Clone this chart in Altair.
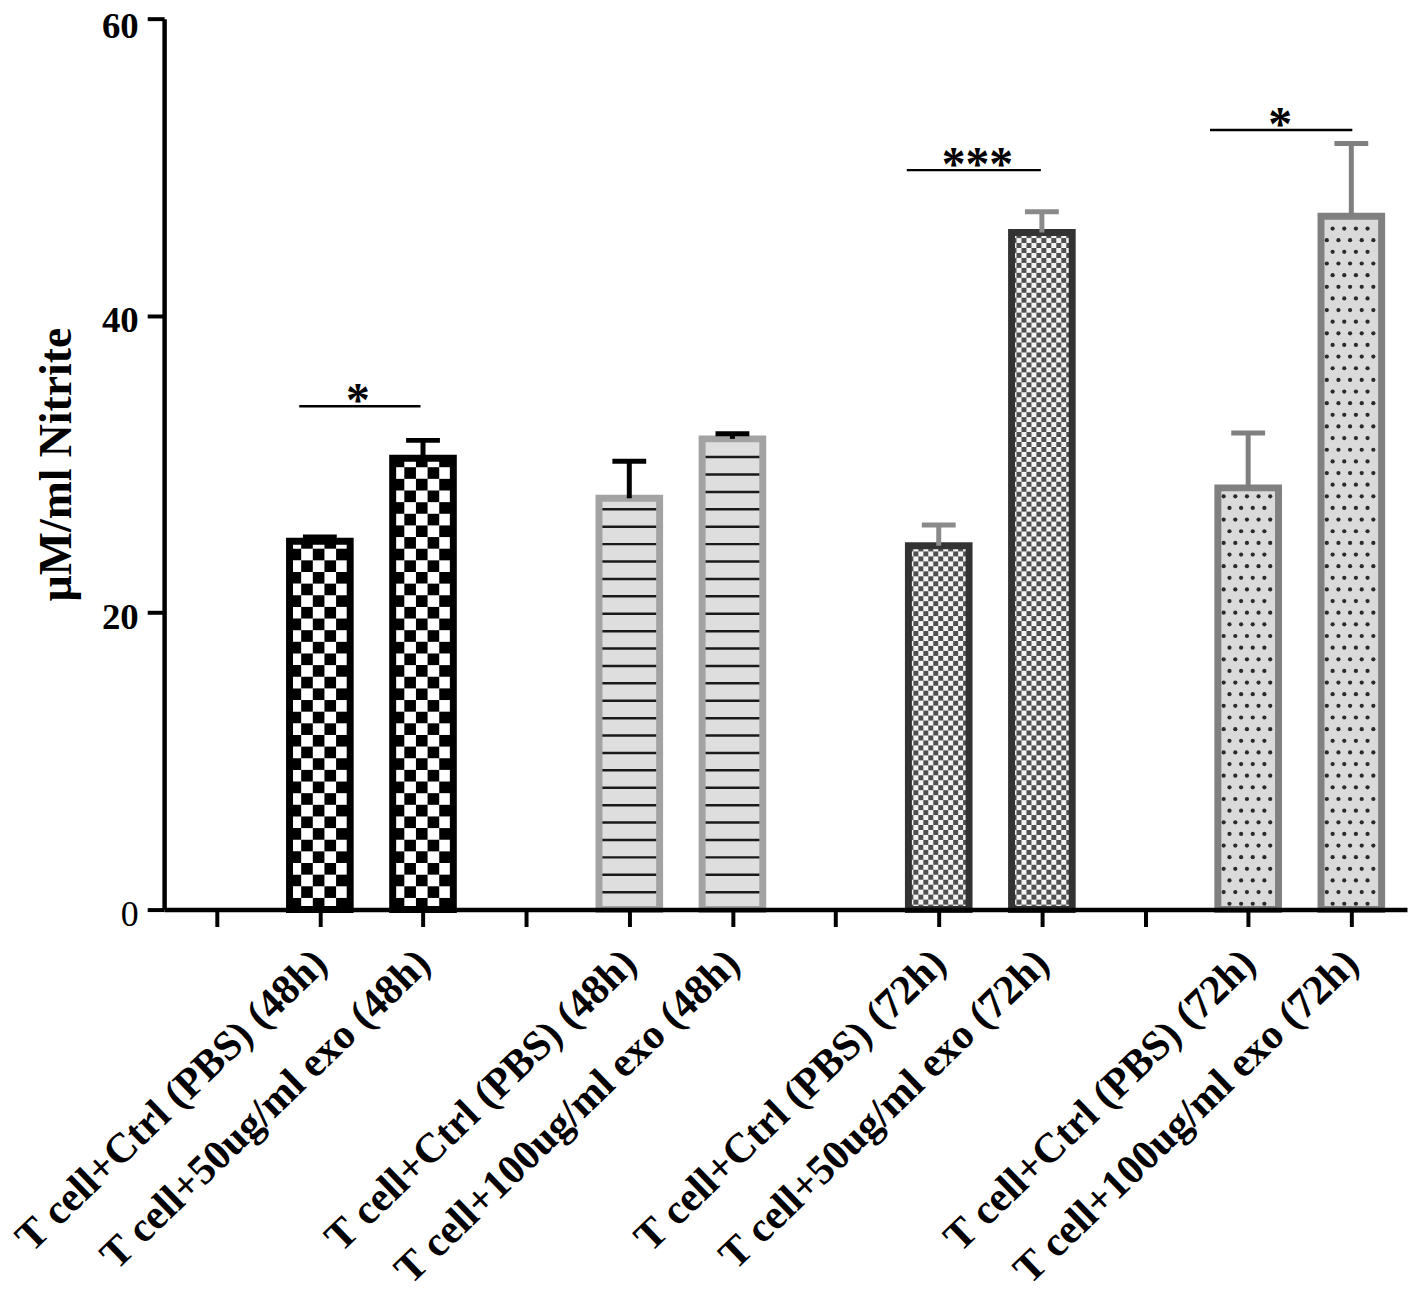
import altair as alt
import pandas as pd
import json

# ---- data ----
labels = ["T cell+Ctrl (PBS) (48h)", "T cell+50ug/ml exo (48h)",
          "T cell+Ctrl (PBS) (48h)", "T cell+100ug/ml exo (48h)",
          "T cell+Ctrl (PBS) (72h)", "T cell+50ug/ml exo (72h)",
          "T cell+Ctrl (PBS) (72h)", "T cell+100ug/ml exo (72h)"]
positions = [1, 2, 4, 5, 7, 8, 10, 11]
means = [24.8, 30.4, 27.7, 31.7, 24.5, 45.6, 28.4, 46.7]
errors = [0.3, 1.2, 2.5, 0.35, 1.4, 1.4, 3.7, 4.9]
groups = ["g1", "g1", "g2", "g2", "g3", "g3", "g4", "g4"]

sig_x0 = [0.80, 6.69, 9.63]
sig_x1 = [1.976, 7.99, 11.01]
sig_y = [33.9, 49.8, 52.5]
sig_text_x = [1.369, 7.375, 10.31]
sig_text = ["*", "***", "*"]

n_slots = 12
tick_labels = [""] * n_slots
for p, l in zip(positions, labels):
    tick_labels[p] = l

df = pd.DataFrame({"pos": positions, "mean": means, "err": errors, "grp": groups})
sig = pd.DataFrame({"x0": sig_x0, "x1": sig_x1, "y": sig_y, "tx": sig_text_x, "t": sig_text})

FONT = "Liberation Serif"
HW = 0.294     # half bar width (x units)
CW = 0.164     # half cap width
W, H = 1250, 896
XDOM = [-0.51, 11.54]

xs = alt.Scale(domain=XDOM, nice=False, zero=False)
ys = alt.Scale(domain=[0, 60], nice=False)

gdom = ["g1", "g2", "g3", "g4"]
bg_fill = alt.Fill("grp:N", scale=alt.Scale(domain=gdom, range=["#ffffff", "#dedede", "#f4f4f4", "#dadada"]), legend=None)
border = alt.Stroke("grp:N", scale=alt.Scale(domain=gdom, range=["#000000", "#a3a3a3", "#333333", "#808080"]), legend=None)
err_col = alt.Color("grp:N", scale=alt.Scale(domain=gdom, range=["#000000", "#000000", "#8a8a8a", "#7f7f7f"]), legend=None)
err_w = alt.StrokeWidth("grp:N", scale=alt.Scale(domain=gdom, range=[5, 5, 2.5, 5]), legend=None)

base = alt.Chart(df).transform_calculate(
    x0=f"datum.pos - {HW}", x1=f"datum.pos + {HW}", zero="0"
)

x_axis = alt.Axis(
    values=list(range(n_slots)),
    labelExpr=f"{json.dumps(tick_labels)}[round(datum.value)]",
    labelAngle=-44, labelAlign="right", labelBaseline="middle",
    labelFontSize=42, labelPadding=30, labelLimit=0, labelOverlap=False,
    tickSize=17, tickWidth=4,
    domainWidth=4.5, title=None, grid=False, zindex=1,
)
y_axis = alt.Axis(
    values=[0, 20, 40, 60], tickSize=17, tickWidth=4, domainWidth=4.5,
    labelFontSize={"expr": "datum.value == 0 ? 36 : 37"},
    labelFontWeight={"expr": "datum.value == 0 ? 'normal' : 'bold'"},
    labelOffset={"expr": "datum.value == 60 ? 8 : 5"}, labelPadding=9,
    title="µM/ml Nitrite", titleFontSize=46, titlePadding=21,
    grid=False, zindex=1,
)

bg = base.mark_rect().encode(
    x=alt.X("x0:Q", scale=xs, axis=x_axis), x2="x1:Q",
    y=alt.Y("zero:Q", scale=ys, axis=y_axis), y2="mean:Q",
    fill=bg_fill,
)

# group 1: coarse black/white checker
C1X, C1Y = 0.1128, 0.784
checker1 = alt.Chart(df).transform_filter("datum.grp == 'g1'").transform_calculate(
    r=f"sequence(0, ceil(datum.mean / {C1Y}))",
    c=f"sequence(0, ceil({2*HW} / {C1X}))",
).transform_flatten(["r"]).transform_flatten(["c"]).transform_filter(
    "(datum.r + datum.c) % 2 == 0"
).transform_calculate(
    cx0=f"datum.pos - {HW} + datum.c * {C1X}",
    cx1=f"min(datum.pos - {HW} + (datum.c + 1) * {C1X}, datum.pos + {HW})",
    cy0=f"datum.r * {C1Y}",
    cy1=f"min((datum.r + 1) * {C1Y}, datum.mean)",
).transform_filter("datum.cy1 > datum.cy0").mark_rect(color="#000000").encode(
    x=alt.X("cx0:Q", scale=xs), x2="cx1:Q", y=alt.Y("cy0:Q", scale=ys), y2="cy1:Q"
)

# group 3: fine dark checker
C3X, C3Y = 0.0482, 0.335
checker3 = alt.Chart(df).transform_filter("datum.grp == 'g3'").transform_calculate(
    r=f"sequence(0, ceil(datum.mean / {C3Y}))",
    c=f"sequence(0, ceil({2*HW} / {C3X}))",
).transform_flatten(["r"]).transform_flatten(["c"]).transform_filter(
    "(datum.r + datum.c) % 2 == 0"
).transform_calculate(
    cx0=f"datum.pos - {HW} + datum.c * {C3X}",
    cx1=f"min(datum.pos - {HW} + (datum.c + 1) * {C3X}, datum.pos + {HW})",
    cy0=f"datum.r * {C3Y}",
    cy1=f"min((datum.r + 1) * {C3Y}, datum.mean)",
).transform_filter("datum.cy1 > datum.cy0").mark_rect(color="#505050").encode(
    x=alt.X("cx0:Q", scale=xs), x2="cx1:Q", y=alt.Y("cy0:Q", scale=ys), y2="cy1:Q"
)

# group 2: horizontal black stripes
SY = 1.172
stripes = alt.Chart(df).transform_filter("datum.grp == 'g2'").transform_calculate(
    k=f"sequence(1, ceil(datum.mean / {SY}))",
).transform_flatten(["k"]).transform_calculate(
    ly=f"datum.k * {SY}", lx0=f"datum.pos - {HW}", lx1=f"datum.pos + {HW}"
).transform_filter("datum.ly < datum.mean - 0.35").mark_rule(
    color="#1a1a1a", strokeWidth=2.5
).encode(x=alt.X("lx0:Q", scale=xs), x2="lx1:Q", y=alt.Y("ly:Q", scale=ys))

# group 4: staggered dots
DX, DY = 0.1128, 0.784
dots = alt.Chart(df).transform_filter("datum.grp == 'g4'").transform_calculate(
    r=f"sequence(0, ceil(datum.mean / {DY}))",
    c=f"sequence(0, ceil({2*HW} / {DX}) + 1)",
).transform_flatten(["r"]).transform_flatten(["c"]).transform_calculate(
    dx=f"datum.pos - {HW} + (datum.c + 0.5 * (datum.r % 2)) * {DX}",
    dy=f"(datum.r + 0.5) * {DY}",
).transform_filter(
    f"datum.dx > datum.pos - {HW} + 0.04 && datum.dx < datum.pos + {HW} - 0.04 && datum.dy < datum.mean - 0.3"
).mark_circle(color="#2a2a2a", opacity=1, size=18).encode(
    x=alt.X("dx:Q", scale=xs), y=alt.Y("dy:Q", scale=ys)
)

outline = base.mark_rect(fillOpacity=0, strokeWidth=7).encode(
    x=alt.X("x0:Q", scale=xs), x2="x1:Q",
    y=alt.Y("zero:Q", scale=ys), y2="mean:Q",
    stroke=border,
)

err_v = base.transform_calculate(top="datum.mean + datum.err").mark_rule().encode(
    x=alt.X("pos:Q", scale=xs), y=alt.Y("mean:Q", scale=ys), y2="top:Q",
    color=err_col, strokeWidth=err_w,
)
err_cap = base.transform_calculate(
    top="datum.mean + datum.err", c0=f"datum.pos - {CW}", c1=f"datum.pos + {CW}"
).mark_rule().encode(
    x=alt.X("c0:Q", scale=xs), x2="c1:Q", y=alt.Y("top:Q", scale=ys),
    color=err_col, strokeWidth=err_w,
)

sig_lines = alt.Chart(sig).mark_rule(color="black", strokeWidth=2.5).encode(
    x=alt.X("x0:Q", scale=xs), x2="x1:Q", y=alt.Y("y:Q", scale=ys)
)
sig_stars = alt.Chart(sig).mark_text(
    font=FONT, fontSize=48, fontWeight="bold", color="black", baseline="alphabetic", dy=10
).encode(x=alt.X("tx:Q", scale=xs), y=alt.Y("y:Q", scale=ys), text="t:N")

chart = alt.layer(
    bg, checker1, checker3, stripes, dots, outline, err_v, err_cap, sig_lines, sig_stars
).properties(
    width=W, height=H,
    autosize=alt.AutoSizeParams(type="none"),
    padding={"left": 157, "top": 7, "right": 3, "bottom": 403},
).configure_view(stroke=None).configure_axis(
    labelFont=FONT, titleFont=FONT, labelFontWeight="bold", titleFontWeight="bold",
    labelColor="black", titleColor="black", domainColor="black", tickColor="black",
)

chart.save("out.html", embed_options={"renderer": "svg", "actions": False})
